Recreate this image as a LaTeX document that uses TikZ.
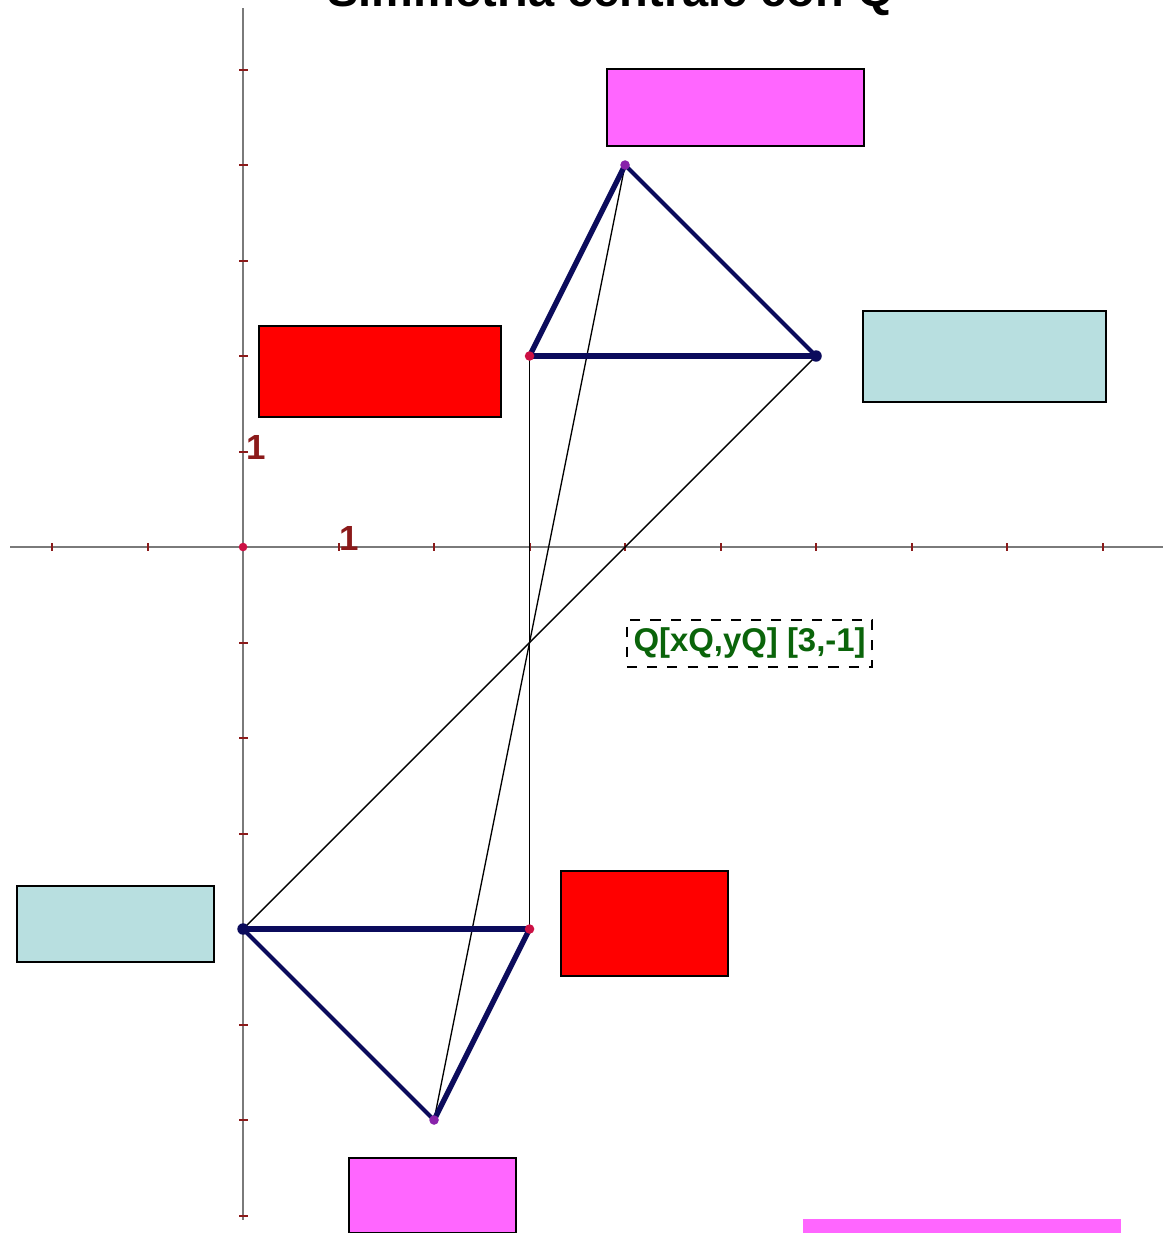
\documentclass[tikz,border=0pt]{standalone}
\usepackage{fontspec}
\setmainfont{Liberation Sans}
\definecolor{navyline}{HTML}{0B0B5C}
\definecolor{pinkbox}{HTML}{FF66FF}
\definecolor{redbox}{HTML}{FF0000}
\definecolor{bluebox}{HTML}{B8DFE0}
\definecolor{axisgray}{HTML}{7A7A7A}
\definecolor{tickred}{HTML}{8B1A1A}
\definecolor{qgreen}{HTML}{0A640A}
\definecolor{dotA}{HTML}{CC1144}
\definecolor{dotB}{HTML}{8822AA}

\begin{document}
\begin{tikzpicture}[x=1cm,y=1cm,
  lbl/.style={draw,line width=0.6pt,inner sep=0pt,anchor=north west},
  axis/.style={axisgray,line width=0.7pt},
  tick/.style={tickred,line width=0.6pt},
  num/.style={tickred,font=\bfseries\fontsize{10.4}{12}\selectfont,inner sep=0pt},
  side/.style={navyline,line width=1.6pt},
  thinside/.style={navyline,line width=1.2pt},
  link/.style={black,line width=0.4pt}]
  \useasboundingbox (-2.545,-7.183) rectangle (9.634,5.728);
  \node[font=\bfseries\fontsize{14}{16}\selectfont,anchor=base] (title) at (3.85,5.655) {Simmetria centrale con Q};
  \draw[axis] (-2.44,0) -- (9.634,0);
  \draw[axis] (0,5.644) -- (0,-7.047);
  \foreach \x in {-2,-1,1,2,...,9}
    \draw[tick] (\x,-0.04) -- (\x,0.04);
  \foreach \y in {-7,-6,...,-1,1,2,...,5}
    \draw[tick] (-0.04,\y) -- (0.05,\y);
  \fill[dotA] (0,0) circle (0.045);
  \node[num] (one x) at (1.11,0.094) {1};
  \node[num] (one y) at (0.136,1.047) {1};
  \coordinate (A) at (3,2);
  \coordinate (B) at (4,4);
  \coordinate (C) at (6,2);
  \coordinate (Ai) at (3,-4);
  \coordinate (Bi) at (2,-6);
  \coordinate (Ci) at (0,-4);
  \coordinate (Q) at (3,-1);
  \draw[link] (A) -- (Ai);
  \draw[link] (B) -- (Bi);
  \draw[link] (C) -- (Ci);
  \draw[thinside] (B) -- (C);
  \draw[side] (A) -- (B);
  \draw[side] (A) -- (C);
  \draw[thinside] (Bi) -- (Ci);
  \draw[side] (Ai) -- (Bi);
  \draw[side] (Ai) -- (Ci);
  \fill[dotA] (A) circle (0.05);
  \fill[dotA] (Ai) circle (0.05);
  \fill[dotB] (B) circle (0.05);
  \fill[dotB] (Bi) circle (0.05);
  \fill[navyline] (C) circle (0.06);
  \fill[navyline] (Ci) circle (0.06);
  \node[draw,dashed,line width=0.5pt,minimum width=2.565cm,minimum height=0.492cm,inner sep=0pt,
        text=qgreen,font=\bfseries\fontsize{9.8}{11}\selectfont] (Q label) at (5.304,-1.01) {Q[xQ,yQ] [3,-1]};
  \node[lbl,fill=pinkbox,minimum width=2.691cm,minimum height=0.807cm] (boxB) at (3.801,5.016) {};
  \node[lbl,fill=redbox,minimum width=2.534cm,minimum height=0.953cm] (boxA) at (0.157,2.325) {};
  \node[lbl,fill=bluebox,minimum width=2.544cm,minimum height=0.953cm] (boxC) at (6.482,2.482) {};
  \node[lbl,fill=bluebox,minimum width=2.063cm,minimum height=0.796cm] (boxCi) at (-2.377,-3.539) {};
  \node[lbl,fill=redbox,minimum width=1.749cm,minimum height=1.100cm] (boxAi) at (3.319,-3.382) {};
  \node[lbl,fill=pinkbox,minimum width=1.749cm,minimum height=0.786cm] (boxBi) at (1.099,-6.387) {};
  \node[fill=pinkbox,inner sep=0pt,anchor=north west,minimum width=3.330cm,minimum height=0.157cm] (bar) at (5.853,-7.026) {};
\end{tikzpicture}
\end{document}
